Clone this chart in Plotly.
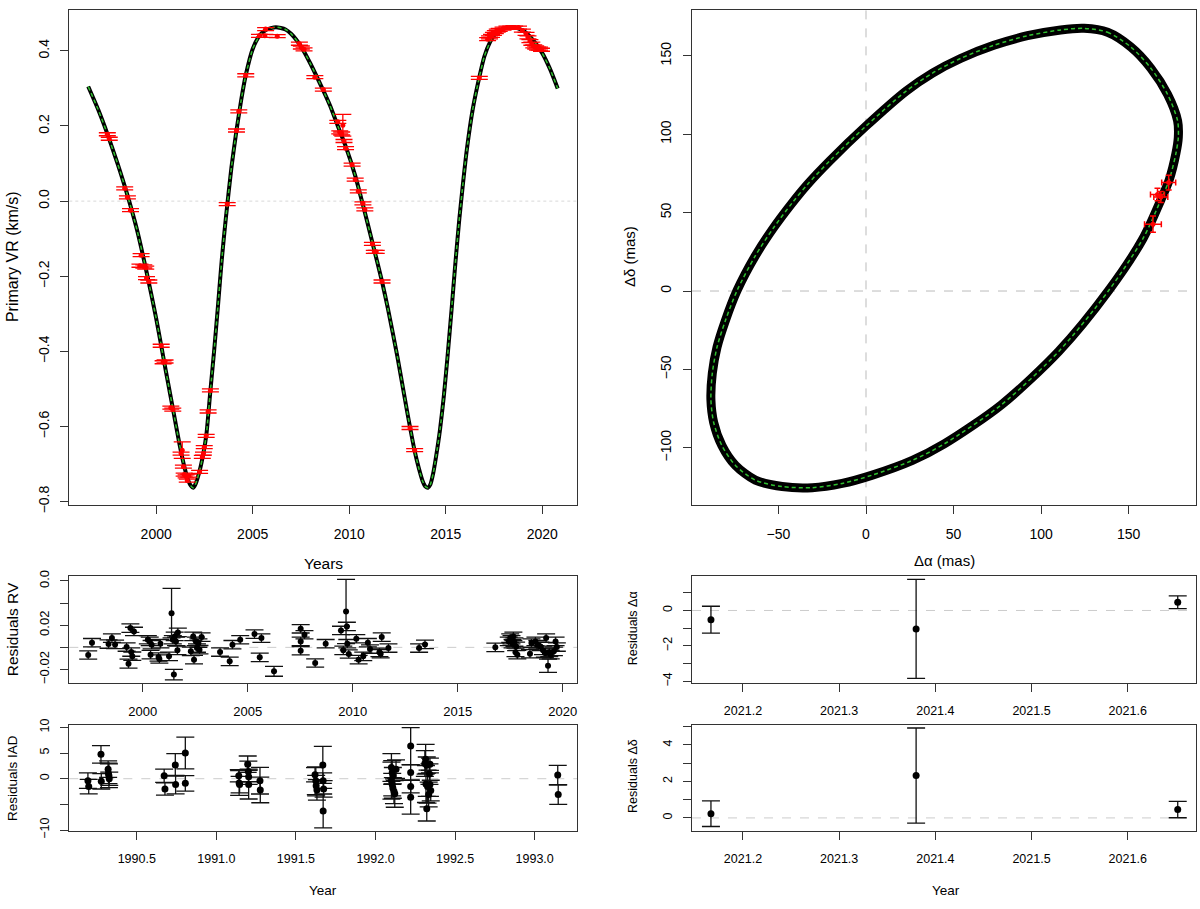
import plotly.graph_objects as go

FONT = "Liberation Sans, Arial, sans-serif"

# ---------------- data ----------------
# model RV curve (year, km/s)
rv_curve = [
    (1996.48, 0.305), (1997.0, 0.243), (1997.5, 0.175), (1998.0, 0.100), (1998.5, 0.018),
    (1999.0, -0.075), (1999.5, -0.188), (2000.0, -0.312), (2000.5, -0.452), (2000.9, -0.562),
    (2001.2, -0.645), (2001.45, -0.705), (2001.65, -0.742), (2001.8, -0.758), (2001.92, -0.763),
    (2002.05, -0.752), (2002.25, -0.718), (2002.45, -0.670), (2002.6, -0.622), (2002.81, -0.504),
    (2003.0, -0.400), (2003.2, -0.280), (2003.4, -0.155), (2003.6, -0.050), (2003.9, 0.090),
    (2004.16, 0.188), (2004.4, 0.268), (2004.64, 0.335), (2005.0, 0.405), (2005.35, 0.440),
    (2005.7, 0.456), (2006.2, 0.463), (2006.7, 0.457), (2007.0, 0.445), (2007.5, 0.412),
    (2008.0, 0.365), (2008.66, 0.294), (2009.0, 0.255), (2009.41, 0.200), (2009.81, 0.147),
    (2010.31, 0.068), (2010.71, -0.010), (2011.2, -0.110), (2011.7, -0.214), (2012.0, -0.285),
    (2012.5, -0.415), (2013.0, -0.560), (2013.39, -0.665), (2013.6, -0.710), (2013.8, -0.745),
    (2013.95, -0.760), (2014.08, -0.763), (2014.2, -0.755), (2014.35, -0.725), (2014.5, -0.680),
    (2014.7, -0.610), (2014.9, -0.520), (2015.1, -0.410), (2015.3, -0.290), (2015.5, -0.165),
    (2015.7, -0.050), (2015.9, 0.050), (2016.1, 0.140), (2016.4, 0.245), (2016.74, 0.330),
    (2017.0, 0.385), (2017.3, 0.424), (2017.6, 0.447), (2018.0, 0.459), (2018.5, 0.463),
    (2019.0, 0.454), (2019.5, 0.430), (2020.0, 0.394), (2020.4, 0.352), (2020.8, 0.300),
]

# RV observations (year, km/s, error)
rv_obs = [
    (1997.47, 0.178, 0.004), (1997.57, 0.166, 0.004), (1998.37, 0.034, 0.004), (1998.51, 0.010, 0.004),
    (1998.67, -0.024, 0.004), (1999.16, -0.172, 0.004), (1999.22, -0.144, 0.004), (1999.36, -0.174, 0.004),
    (1999.46, -0.177, 0.004), (1999.50, -0.205, 0.004), (1999.62, -0.214, 0.004), (2000.26, -0.385, 0.004),
    (2000.36, -0.429, 0.004), (2000.46, -0.427, 0.004), (2000.76, -0.550, 0.004), (2000.86, -0.555, 0.004),
    (2001.29, -0.672, 0.004), (2001.35, -0.663, 0.022), (2001.41, -0.707, 0.004), (2001.45, -0.728, 0.004),
    (2001.55, -0.733, 0.004), (2001.61, -0.744, 0.004), (2001.69, -0.731, 0.004), (2002.25, -0.721, 0.004),
    (2002.39, -0.681, 0.004), (2002.45, -0.672, 0.004), (2002.49, -0.655, 0.004), (2002.59, -0.625, 0.004),
    (2002.69, -0.560, 0.004), (2002.81, -0.504, 0.004), (2003.68, -0.008, 0.004), (2004.16, 0.188, 0.004),
    (2004.28, 0.239, 0.004), (2004.64, 0.335, 0.004), (2005.35, 0.440, 0.004), (2005.63, 0.440, 0.004),
    (2005.67, 0.458, 0.004), (2006.27, 0.439, 0.004), (2007.42, 0.419, 0.004), (2007.52, 0.409, 0.004),
    (2007.66, 0.404, 0.004), (2008.22, 0.330, 0.004), (2008.66, 0.297, 0.004), (2009.41, 0.211, 0.004),
    (2009.51, 0.183, 0.004), (2009.61, 0.180, 0.004), (2009.67, 0.202, 0.029), (2009.73, 0.160, 0.004),
    (2009.81, 0.141, 0.004), (2010.15, 0.097, 0.004), (2010.31, 0.057, 0.004), (2010.47, 0.026, 0.004),
    (2010.71, -0.006, 0.004), (2010.81, -0.022, 0.004), (2011.20, -0.114, 0.004), (2011.30, -0.135, 0.004),
    (2011.40, -0.135, 0.004), (2011.70, -0.214, 0.004), (2013.15, -0.604, 0.004), (2013.39, -0.663, 0.004),
    (2016.74, 0.328, 0.004), (2017.17, 0.431, 0.004), (2017.27, 0.436, 0.004), (2017.37, 0.440, 0.004),
    (2017.47, 0.445, 0.004), (2017.57, 0.450, 0.004), (2017.67, 0.454, 0.004), (2017.77, 0.456, 0.004),
    (2017.97, 0.459, 0.004), (2018.17, 0.462, 0.004), (2018.37, 0.462, 0.004), (2018.57, 0.462, 0.004),
    (2018.77, 0.462, 0.004), (2018.97, 0.454, 0.004), (2019.16, 0.445, 0.004), (2019.26, 0.436, 0.004),
    (2019.36, 0.426, 0.004), (2019.46, 0.419, 0.004), (2019.56, 0.412, 0.004), (2019.66, 0.409, 0.004),
    (2019.76, 0.406, 0.004), (2019.86, 0.406, 0.004), (2019.96, 0.403, 0.004),
]

# relative orbit (mas): model track (dRA, dDec)
orbit = [
    (124.6, 167.5), (138.0, 165.0), (151.3, 155.6), (162.7, 142.1), (172.3, 125.3), (178.0, 108.5),
    (178.4, 98.1), (177.0, 87.6), (173.2, 70.9), (168.5, 58.3), (158.1, 33.2), (138.4, 0.0),
    (110.1, -38.5), (77.4, -72.5), (44.7, -97.5), (26.5, -108.0), (3.6, -117.4), (-13.6, -122.7),
    (-30.7, -125.4), (-47.9, -124.7), (-63.2, -120.6), (-74.6, -111.2), (-82.3, -98.6), (-87.0, -83.9),
    (-88.6, -69.3), (-87.8, -52.5), (-85.1, -35.8), (-80.4, -19.1), (-73.7, 0.2), (-63.2, 22.5),
    (-52.7, 40.5), (-42.3, 56.0), (-33.6, 67.8), (-20.7, 83.0), (0.0, 105.2), (22.9, 127.5),
    (38.0, 139.0), (54.0, 148.3), (73.0, 156.7), (92.2, 162.8), (111.2, 166.5), (124.6, 167.5),
]
# relative astrometry (dRA, dDec, err_RA, err_Dec) in mas
astro_obs = [
    (163.9, 42.6, 4.8, 5.2), (166.5, 61.5, 4.0, 4.0), (168.4, 60.0, 4.0, 3.5), (172.9, 69.2, 4.0, 4.7),
]

# RV residuals (year, km/s, error)
rv_res = [
    (1997.40, -0.0069, 0.0038), (1997.58, 0.0042, 0.0038), (1998.37, 0.0030, 0.0038), (1998.53, 0.0084, 0.0038),
    (1998.68, 0.0027, 0.0038), (1999.23, 0.0003, 0.0038), (1999.32, -0.0147, 0.0040), (1999.41, 0.0174, 0.0038),
    (1999.50, -0.0080, 0.0038), (1999.58, 0.0144, 0.0038), (1999.45, -0.0042, 0.0038), (2000.24, 0.0069, 0.0038),
    (2000.33, 0.0054, 0.0038), (2000.37, -0.0066, 0.0038), (2000.42, 0.0024, 0.0038), (2000.75, -0.0087, 0.0038),
    (2000.79, -0.0105, 0.0038), (2000.84, 0.0033, 0.0038), (2001.25, -0.0081, 0.0038), (2001.37, 0.0309, 0.0224),
    (2001.43, 0.0069, 0.0038), (2001.48, -0.0246, 0.0047), (2001.52, 0.0099, 0.0038), (2001.58, 0.0054, 0.0038),
    (2001.67, 0.0135, 0.0038), (2001.65, -0.0027, 0.0038), (2002.29, -0.0036, 0.0038), (2002.40, 0.0099, 0.0038),
    (2002.44, -0.0111, 0.0038), (2002.53, 0.0054, 0.0038), (2002.58, -0.0006, 0.0038), (2002.65, 0.0039, 0.0038),
    (2002.70, -0.0021, 0.0038), (2002.80, 0.0093, 0.0038), (2003.68, -0.0042, 0.0038), (2004.14, -0.0126, 0.0038),
    (2004.27, 0.0024, 0.0038), (2004.64, 0.0069, 0.0038), (2005.32, 0.0120, 0.0038), (2005.57, -0.0090, 0.0038),
    (2005.65, 0.0084, 0.0038), (2006.25, -0.0216, 0.0045), (2007.52, 0.0168, 0.0038), (2007.52, 0.0054, 0.0038),
    (2007.52, -0.0030, 0.0038), (2007.70, 0.0114, 0.0038), (2008.21, -0.0141, 0.0038), (2008.71, 0.0033, 0.0038),
    (2009.44, 0.0153, 0.0038), (2009.55, -0.0027, 0.0038), (2009.68, 0.0324, 0.0290), (2009.72, 0.0189, 0.0038),
    (2009.74, 0.0033, 0.0038), (2009.81, -0.0060, 0.0038), (2010.17, 0.0078, 0.0038), (2010.28, -0.0111, 0.0038),
    (2010.50, -0.0081, 0.0038), (2010.72, 0.0042, 0.0038), (2010.82, -0.0015, 0.0038), (2011.27, -0.0045, 0.0038),
    (2011.33, -0.0057, 0.0038), (2011.38, 0.0093, 0.0038), (2011.70, -0.0006, 0.0038), (2013.16, -0.0006, 0.0038),
    (2013.44, 0.0027, 0.0038), (2016.79, 0.0000, 0.0038), (2017.43, 0.0054, 0.0038), (2017.50, 0.0084, 0.0038),
    (2017.56, 0.0069, 0.0038), (2017.61, 0.0033, 0.0038), (2017.65, 0.0099, 0.0038), (2017.70, 0.0048, 0.0038),
    (2017.75, -0.0045, 0.0038), (2017.78, 0.0009, 0.0038), (2017.84, -0.0066, 0.0038), (2018.44, -0.0057, 0.0038),
    (2018.51, 0.0039, 0.0038), (2018.70, 0.0054, 0.0038), (2018.79, 0.0024, 0.0038), (2018.94, 0.0009, 0.0038),
    (2019.06, -0.0027, 0.0038), (2019.15, -0.0051, 0.0038), (2019.21, 0.0084, 0.0038), (2019.30, -0.0165, 0.0060),
    (2019.36, -0.0045, 0.0038), (2019.43, -0.0066, 0.0038), (2019.58, -0.0036, 0.0038), (2019.66, 0.0054, 0.0038),
    (2019.72, 0.0003, 0.0038),
]

# Hipparcos IAD residuals (year, mas, error)
iad_res = [
    (1990.193, -0.38, 1.5), (1990.198, -1.54, 1.4), (1990.275, 4.74, 1.7), (1990.277, -0.50, 1.5),
    (1990.320, 1.86, 1.6), (1990.322, 1.03, 2.0), (1990.325, 0.58, 2.3), (1990.327, 0.00, 1.3),
    (1990.672, 0.58, 1.3), (1990.677, -1.99, 1.2), (1990.742, 2.69, 2.2), (1990.744, -1.15, 1.8),
    (1990.805, 5.00, 3.1), (1990.805, -0.90, 1.5),
    (1991.141, 0.58, 1.2), (1991.143, -0.83, 2.4), (1991.146, -1.15, 1.6), (1991.197, 2.82, 1.6),
    (1991.201, 1.41, 2.0), (1991.203, 0.38, 1.5), (1991.203, -1.15, 2.8), (1991.274, -0.38, 2.6),
    (1991.276, -2.18, 2.5),
    (1991.620, 0.77, 1.4), (1991.625, -0.38, 2.7), (1991.627, -1.35, 2.0), (1991.632, -2.18, 2.0),
    (1991.669, 2.69, 3.6), (1991.671, -0.38, 1.5), (1991.674, -1.99, 1.6), (1991.671, -6.28, 3.3),
    (1992.100, 2.18, 2.7), (1992.105, 1.22, 2.3), (1992.109, 0.58, 1.6), (1992.100, -0.38, 3.6),
    (1992.105, -1.15, 2.2), (1992.109, -1.80, 2.0), (1992.116, -2.44, 2.4), (1992.121, -2.95, 2.6),
    (1992.129, 1.86, 1.8), (1992.221, 6.35, 3.6), (1992.221, 1.22, 1.5), (1992.221, -1.54, 1.2),
    (1992.221, -3.59, 3.3),
    (1992.310, 2.95, 2.5), (1992.315, 3.78, 2.9), (1992.322, 2.63, 1.6), (1992.339, 0.90, 2.0),
    (1992.342, 2.82, 1.2), (1992.317, -1.03, 3.6), (1992.327, -1.54, 3.2), (1992.334, -3.08, 2.4),
    (1992.322, -5.83, 2.4), (1992.342, -1.15, 2.3), (1992.347, -2.30, 2.0),
    (1993.145, 0.71, 1.9), (1993.148, -3.08, 1.9),
]

# relative astrometry residuals
astro_t = [2021.1667, 2021.380, 2021.652]
res_ra = [-0.52, -1.04, 0.46]
err_ra = [0.76, 2.80, 0.36]
res_dec = [0.23, 2.32, 0.46]
err_dec = [0.70, 2.61, 0.45]

# tick labels
rv_ticks = [-0.8, -0.6, -0.4, -0.2, 0.0, 0.2, 0.4]
rv_ticktext = ["\u22120.8", "\u22120.6", "\u22120.4", "\u22120.2", "0.0", "0.2", "0.4"]
year_ticks = [2000, 2005, 2010, 2015, 2020]
orb_x_ticks = [-50, 0, 50, 100, 150]
orb_x_text = ["\u221250", "0", "50", "100", "150"]
orb_y_ticks = [-100, -50, 0, 50, 100, 150]
orb_y_text = ["\u2212100", "\u221250", "0", "50", "100", "150"]
rvres_ticks = [-0.02, 0.0, 0.02, 0.04, 0.06]
rvres_text = ["\u22120.02", "", "0.02", "", "0.0"]
iad_x_ticks = [1990.5, 1991.0, 1991.5, 1992.0, 1992.5, 1993.0]
iad_x_text = ["1990.5", "1991.0", "1991.5", "1992.0", "1992.5", "1993.0"]
iad_y_ticks = [-10, -5, 0, 5, 10]
iad_y_text = ["\u221210", "", "0", "5", "10"]
ast_x_ticks = [2021.2, 2021.3, 2021.4, 2021.5, 2021.6]
ast_x_text = ["2021.2", "2021.3", "2021.4", "2021.5", "2021.6"]
ra_y_ticks = [-4, -3, -2, -1, 0, 1]
ra_y_text = ["\u22124", "", "\u22122", "", "0", ""]
dec_y_ticks = [0, 1, 2, 3, 4, 5]
dec_y_text = ["0", "", "2", "", "4", ""]

# ---------------- figure ----------------
W, H = 1200, 909
LX = [69.3 / W, 577 / W]
RX = [692 / W, 1196 / W]
TOPY = [1 - 507.2 / H, 1 - 3.6 / H]
MIDY = [1 - 687.5 / H, 1 - 579 / H]
BOTY = [1 - 837.5 / H, 1 - 730 / H]

fig = go.Figure()

def col(rows, i):
    return [r[i] for r in rows]

# --- panel 1: RV
fig.add_trace(go.Scatter(x=col(rv_curve, 0), y=col(rv_curve, 1), mode="lines",
                         line=dict(color="black", width=4, shape="spline", smoothing=0.6),
                         xaxis="x", yaxis="y", hoverinfo="skip"))
fig.add_trace(go.Scatter(x=col(rv_curve, 0), y=col(rv_curve, 1), mode="lines",
                         line=dict(color="#2FBF2F", width=1.5, dash="4px,3px", shape="spline", smoothing=0.6),
                         xaxis="x", yaxis="y", hoverinfo="skip"))
fig.add_trace(go.Scatter(x=col(rv_obs, 0), y=col(rv_obs, 1), mode="markers",
                         marker=dict(color="red", size=5),
                         error_y=dict(type="data", array=col(rv_obs, 2), color="red", thickness=1.3, width=8.5),
                         xaxis="x", yaxis="y"))

# --- panel 2: orbit
fig.add_trace(go.Scatter(x=col(orbit, 0), y=col(orbit, 1), mode="lines",
                         line=dict(color="black", width=9, shape="spline", smoothing=0.8),
                         xaxis="x2", yaxis="y2", hoverinfo="skip"))
fig.add_trace(go.Scatter(x=col(orbit, 0), y=col(orbit, 1), mode="lines",
                         line=dict(color="#2FBF2F", width=1.5, dash="4px,3px", shape="spline", smoothing=0.8),
                         xaxis="x2", yaxis="y2", hoverinfo="skip"))
fig.add_trace(go.Scatter(x=col(astro_obs, 0), y=col(astro_obs, 1), mode="markers",
                         marker=dict(color="red", size=5),
                         error_x=dict(type="data", array=col(astro_obs, 2), color="red", thickness=1.5, width=3),
                         error_y=dict(type="data", array=col(astro_obs, 3), color="red", thickness=1.5, width=3),
                         xaxis="x2", yaxis="y2"))

# --- panel 3: RV residuals
fig.add_trace(go.Scatter(x=col(rv_res, 0), y=col(rv_res, 1), mode="markers",
                         marker=dict(color="black", size=6),
                         error_y=dict(type="data", array=col(rv_res, 2), color="#111111", thickness=1.3, width=9),
                         xaxis="x3", yaxis="y3"))

# --- panel 4: IAD residuals
fig.add_trace(go.Scatter(x=col(iad_res, 0), y=col(iad_res, 1), mode="markers",
                         marker=dict(color="black", size=7),
                         error_y=dict(type="data", array=col(iad_res, 2), color="#111111", thickness=1.3, width=9),
                         xaxis="x4", yaxis="y4"))

# --- panel 5/6: astrometric residuals
fig.add_trace(go.Scatter(x=astro_t, y=res_ra, mode="markers", marker=dict(color="black", size=7),
                         error_y=dict(type="data", array=err_ra, color="#111111", thickness=1.3, width=9),
                         xaxis="x5", yaxis="y5"))
fig.add_trace(go.Scatter(x=astro_t, y=res_dec, mode="markers", marker=dict(color="black", size=7),
                         error_y=dict(type="data", array=err_dec, color="#111111", thickness=1.3, width=9),
                         xaxis="x6", yaxis="y6"))

def axis(domain, anchor, tickvals, ticktext, rng, size, vertical=False, standoff=None):
    d = dict(domain=domain, anchor=anchor, range=rng, tickvals=tickvals, ticktext=ticktext,
             showline=True, linecolor="#333333", linewidth=1.2, mirror=True,
             ticks="outside", ticklen=8, tickwidth=1.2, tickcolor="#333333",
             showgrid=False, zeroline=False,
             tickfont=dict(family=FONT, size=size, color="black"))
    if vertical:
        d["tickangle"] = -90
    if standoff is not None:
        d["ticklabelstandoff"] = standoff
    return d

fig.update_layout(
    width=W, height=H, margin=dict(l=0, r=0, t=0, b=0),
    paper_bgcolor="white", plot_bgcolor="white", showlegend=False,
    font=dict(family=FONT, color="black"),
    xaxis=axis(LX, "y", year_ticks, [str(v) for v in year_ticks], [1995.5, 2021.8], 14, standoff=8),
    yaxis=axis(TOPY, "x", rv_ticks, rv_ticktext, [-0.81, 0.51], 14, vertical=True, standoff=6),
    xaxis2=axis(RX, "y2", orb_x_ticks, orb_x_text, [-99.4, 188.5], 14, standoff=8),
    yaxis2=axis(TOPY, "x2", orb_y_ticks, orb_y_text, [-136.7, 179.5], 14, vertical=True, standoff=6),
    xaxis3=axis(LX, "y3", year_ticks, [str(v) for v in year_ticks], [1996.5, 2020.68], 13, standoff=8),
    yaxis3=axis(MIDY, "x3", rvres_ticks, rvres_text, [-0.0321, 0.0644], 13, vertical=True, standoff=6),
    xaxis4=axis(LX, "y4", iad_x_ticks, iad_x_text, [1990.076, 1993.266], 12.5, standoff=8),
    yaxis4=axis(BOTY, "x4", iad_y_ticks, iad_y_text, [-10.1, 10.5], 12.5, vertical=True, standoff=6),
    xaxis5=axis(RX, "y5", ast_x_ticks, ast_x_text, [2021.147, 2021.671], 12.5, standoff=8),
    yaxis5=axis(MIDY, "x5", ra_y_ticks, ra_y_text, [-4.093, 1.944], 12.5, vertical=True, standoff=6),
    xaxis6=axis(RX, "y6", ast_x_ticks, ast_x_text, [2021.147, 2021.671], 12.5, standoff=8),
    yaxis6=axis(BOTY, "x6", dec_y_ticks, dec_y_text, [-0.696, 5.107], 12.5, vertical=True, standoff=6),
)

# reference lines
def hline(ax, color, dash):
    fig.add_shape(type="line", xref=f"x{ax} domain", yref=f"y{ax}", x0=0, x1=1, y0=0, y1=0,
                  line=dict(color=color, width=1, dash=dash), layer="below")

hline("", "#D8D8D8", "dot")
hline("2", "#BBBBBB", "dash")
fig.add_shape(type="line", xref="x2", yref="y2 domain", x0=0, x1=0, y0=0, y1=1,
              line=dict(color="#BBBBBB", width=1, dash="dash"), layer="below")
for a in ["3", "4", "5", "6"]:
    hline(a, "#CCCCCC", "dash")

# axis titles
def label(text, x, y, size, angle=0):
    fig.add_annotation(text=text, x=x / W, y=1 - y / H, xref="paper", yref="paper",
                       showarrow=False, textangle=angle, xanchor="center", yanchor="middle",
                       font=dict(family=FONT, size=size, color="black"))

label("Primary VR (km/s)", 12, 255, 16, -90)
label("Years", 323, 566, 15.5)
label("Residuals RV", 12, 633, 15.5, -90)
label("Residuals IAD", 13, 784, 13.5, -90)
label("Year", 323, 898, 13.5)
label("\u0394\u03b4 (mas)", 629, 255, 15, -90)
label("\u0394\u03b1 (mas)", 944, 563, 15)
label("Residuals \u0394\u03b1", 633, 632, 12.5, -90)
label("Residuals \u0394\u03b4", 633, 782, 12.5, -90)
label("Year", 946, 898, 13.5)

fig.write_html("out.html", config={"displayModeBar": False},
               post_script="document.body.style.margin='0px';")
